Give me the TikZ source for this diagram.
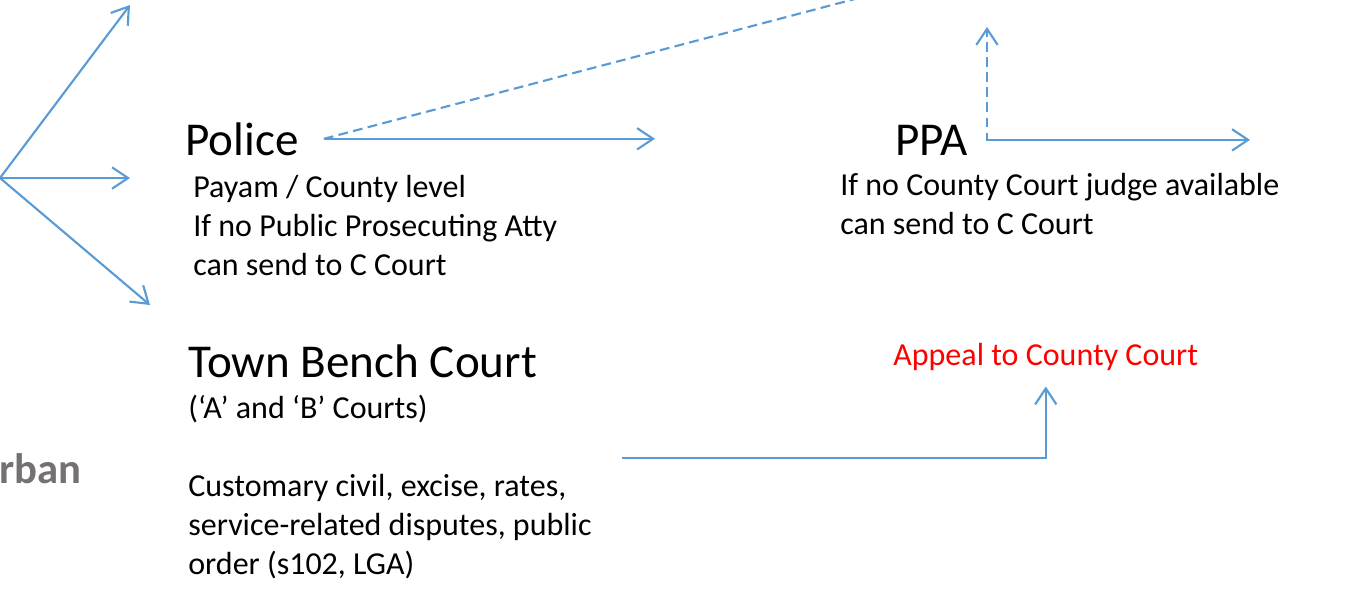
\documentclass[tikz,border=0pt]{standalone}
\usepackage{fontspec}
\setmainfont{Carlito}
\usetikzlibrary{arrows.meta}
\definecolor{linkblue}{RGB}{91,155,213}
\definecolor{urbangray}{RGB}{118,113,113}
\newcommand\headsize{\fontsize{26.5}{32}\selectfont}
\newcommand\bodysize{\fontsize{18}{21.9}\selectfont}
\begin{document}
\begin{tikzpicture}[x=0.5625pt,y=-0.5625pt,
    arr/.style={draw=linkblue,line width=1.2pt,-{Straight Barb[length=9pt,width=12pt,line width=1.2pt]}},
    dasharr/.style={arr,dash pattern=on 5.5pt off 3pt},
    head/.style={inner sep=0pt,anchor=base west,font=\headsize},
    body/.style={inner sep=0pt,anchor=base west,align=left,font=\bodysize}]
  \useasboundingbox (0,0) rectangle (1370,592);
  \clip (0,0) rectangle (1370,592);
  \node [head] (police) at (185,155) {Police};
  \node [body] (policeinfo) at (193,275) {Payam / County level\\If no Public Prosecuting Atty\\can send to C Court};
  \node [head] (ppa) at (895,155) {PPA};
  \node [body] (ppainfo) at (840,234) {If no County Court judge available\\can send to C Court};
  \node [head] (tbc) at (188,377) {Town Bench Court};
  \node [body] (tbcsub) at (188,418) {(‘A’ and ‘B’ Courts)};
  \node [body] (tbccases) at (188,574) {Customary civil, excise, rates,\\service-related disputes, public\\order (s102, LGA)};
  \node [body,text=red] (appeal) at (893,365) {Appeal to County Court};
  \node [inner sep=0pt,anchor=base west,font=\fontsize{24}{29}\selectfont\bfseries,text=urbangray] (urban) at (-1,483) {rban};
  \coordinate (fan) at (0,178);
  \coordinate (fanup) at (130,5);
  \coordinate (fanmid) at (130,178);
  \coordinate (fandown) at (150,305);
  \coordinate (policeend) at (655,137);
  \coordinate (dashend) at (870,-5);
  \coordinate (ppaend) at (1250,137);
  \coordinate (ppaup) at (987,27);
  \coordinate (tbcout) at (622,458);
  \draw [arr] (fan) -- (fanup);
  \draw [arr] (fan) -- (fanmid);
  \draw [arr] (fan) -- (fandown);
  \draw [arr] ([xshift=14pt]police.east) -- (police.east -| policeend);
  \draw [dasharr,-] ([xshift=14pt]police.east) -- (dashend);
  \draw [arr] ([xshift=12pt]ppa.east) -- (ppa.east -| ppaend);
  \draw [dasharr] ([xshift=12pt]ppa.east) -- (ppa.east -| ppaup) -- (ppaup);
  \draw [arr,shorten >=9pt] (tbcout) -| (appeal.south);
\end{tikzpicture}
\end{document}
